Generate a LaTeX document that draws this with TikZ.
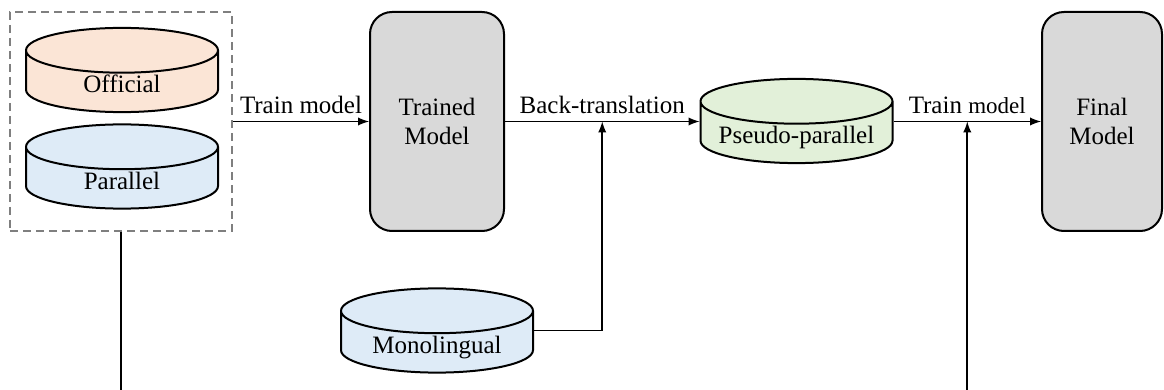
\documentclass[tikz,border=0pt]{standalone}
\usepackage{fontspec}
\setmainfont{Liberation Serif}
\setsansfont{Liberation Serif}
\usetikzlibrary{arrows,positioning,calc,shapes.geometric}

\definecolor{officialfill}{HTML}{FBE5D6}
\definecolor{parafill}{HTML}{DEEBF7}
\definecolor{pseudofill}{HTML}{E2F0D9}
\definecolor{modelfill}{HTML}{D9D9D9}
\definecolor{groupgray}{HTML}{7F7F7F}

\newcommand{\dblabel}[1]{\raisebox{-2.5pt}{#1}}

\begin{document}
\begin{tikzpicture}[
    x=0.5pt, y=-0.5pt,
    font=\rmfamily\fontsize{12.5}{14.5}\selectfont,
    db/.style={cylinder, shape border rotate=90, aspect=0.28, draw, line width=1pt, text width=80pt, text height=7pt, text depth=1pt, align=center, minimum width=96pt, minimum height=34pt, inner sep=0pt, anchor=shape center},
    model/.style={rectangle, rounded corners=11pt, draw, line width=1pt, fill=modelfill, minimum width=67pt, minimum height=109.5pt, align=center},
    group/.style={rectangle, draw=groupgray, line width=1pt, dash pattern=on 4pt off 2.5pt, minimum width=111pt, minimum height=109.5pt},
    arrow/.style={->, >=latex, line width=0.9pt}
]
\useasboundingbox (0,0) rectangle (1164,390);

% training data
\node[db, fill=officialfill] (official) at (122,70) {\dblabel{Official}};
\node[db, fill=parafill] (parallel) at (122,166.5) {\dblabel{Parallel}};
\node[group] (data) at (121,121.5) {};

% models and synthetic data
\node[model] (trained) at (437,121.5) {Trained\\Model};
\node[db, fill=pseudofill] (pseudo) at (796.5,121) {\dblabel{Pseudo-parallel}};
\node[model, minimum width=60pt] (final) at (1102,121.5) {Final\\Model};
\node[db, fill=parafill] (mono) at (437,330.5) {\dblabel{Monolingual}};

\coordinate (bt) at ($(trained.east)!0.5!(pseudo.west |- trained.east)$);
\coordinate (tm) at ($(pseudo.east |- final.west)!0.5!(final.west)$);
\coordinate (leftend) at (data.south |- 0,390);
\coordinate (rightend) at (tm |- 0,390);

\draw[arrow] (data.east) -- node[above] {Train model} (trained.west);
\draw[arrow] (trained.east) -- node[above] {Back-translation} (trained.east -| pseudo.west);
\draw[arrow] (final.west -| pseudo.east) -- node[above] {Train {\fontsize{11.5}{13}\selectfont model}} (final.west);
\draw[arrow] (mono.east |- mono.shape center) -| (bt);
\draw[arrow] (rightend) -- (tm);
\draw[line width=0.9pt] (data.south) -- (leftend);
\end{tikzpicture}
\end{document}
